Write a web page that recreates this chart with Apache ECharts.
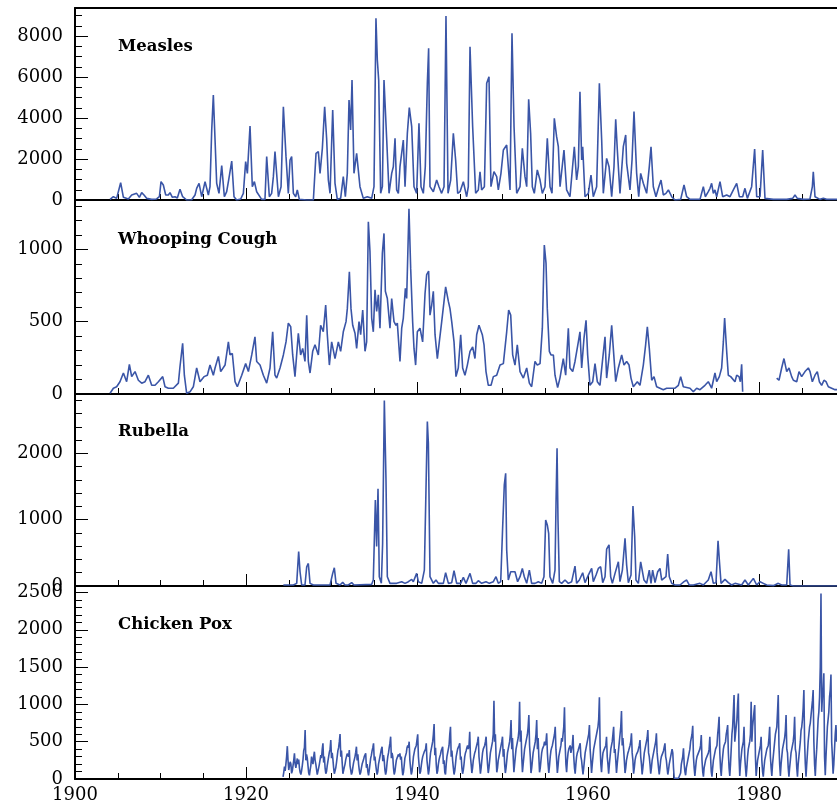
<!DOCTYPE html>
<html>
<head>
<meta charset="utf-8">
<script src="https://cdn.jsdelivr.net/npm/echarts@6.0.0/dist/echarts.min.js"></script>
<style>
  html, body { margin: 0; padding: 0; background: #fff; }
  #chart { width: 837px; height: 807px; }
</style>
</head>
<body>
<div id="chart"></div>
<script>
// case counts, as [year, cases]
var measles = [[1904.10,30],[1904.49,160],[1904.87,80],[1905.34,845],[1905.66,130],[1906.24,50],[1906.63,245],[1906.82,160],[1907.21,325],[1907.53,130],[1907.80,360],[1908.07,245],[1908.38,80],[1908.97,30],[1909.55,50],[1909.87,160],[1910.06,895],[1910.33,730],[1910.61,245],[1910.92,245],[1911.11,360],[1911.39,130],[1911.70,160],[1911.97,100],[1912.28,520],[1912.59,160],[1913.06,0],[1913.65,15],[1914.04,245],[1914.23,570],[1914.51,815],[1914.82,160],[1915.21,895],[1915.60,245],[1915.79,650],[1915.99,3415],[1916.18,5120],[1916.38,2925],[1916.57,815],[1916.84,325],[1917.16,1675],[1917.47,160],[1917.74,405],[1917.97,975],[1918.33,1900],[1918.60,160],[1918.91,0],[1919.38,50],[1919.69,325],[1919.96,1870],[1920.16,1300],[1920.47,3610],[1920.74,650],[1920.98,895],[1921.25,405],[1921.44,490],[1921.83,30],[1922.22,30],[1922.42,2115],[1922.73,160],[1923.00,325],[1923.20,1140],[1923.39,2360],[1923.79,160],[1924.10,650],[1924.37,4550],[1924.68,2115],[1924.95,325],[1925.15,1950],[1925.34,2115],[1925.54,325],[1925.81,160],[1926.00,490],[1926.24,30],[1927.10,0],[1927.88,0],[1928.19,2275],[1928.46,2360],[1928.66,1300],[1928.93,2520],[1929.20,4550],[1929.43,3010],[1929.63,975],[1929.83,325],[1930.14,4390],[1930.41,815],[1930.68,30],[1931.07,80],[1931.38,1140],[1931.62,160],[1931.85,1300],[1932.05,4880],[1932.24,3415],[1932.40,5850],[1932.63,1300],[1932.94,2275],[1933.33,650],[1933.72,80],[1934.19,160],[1934.70,80],[1934.97,650],[1935.20,8860],[1935.36,6830],[1935.52,5850],[1935.75,325],[1935.95,650],[1936.14,5850],[1936.45,3010],[1936.73,325],[1937.04,1300],[1937.23,1625],[1937.43,3010],[1937.62,490],[1937.82,325],[1938.01,1625],[1938.40,2925],[1938.60,650],[1938.87,3250],[1939.10,4505],[1939.38,3575],[1939.65,650],[1939.96,325],[1940.23,3740],[1940.47,650],[1940.74,325],[1940.97,1625],[1941.21,5690],[1941.36,7400],[1941.52,650],[1941.91,405],[1942.30,975],[1942.57,650],[1942.88,325],[1943.16,650],[1943.39,8975],[1943.63,325],[1943.94,975],[1944.25,3250],[1944.52,1950],[1944.76,325],[1945.03,405],[1945.42,895],[1945.81,160],[1946.00,650],[1946.20,7480],[1946.51,3575],[1946.86,325],[1947.17,490],[1947.37,1380],[1947.56,490],[1947.88,650],[1948.15,5690],[1948.42,6015],[1948.65,650],[1949.00,1380],[1949.32,1140],[1949.51,490],[1949.82,1300],[1950.10,2440],[1950.49,2680],[1950.88,490],[1951.11,8130],[1951.35,3575],[1951.66,325],[1952.05,650],[1952.32,2520],[1952.63,1140],[1952.83,650],[1953.06,4910],[1953.29,3250],[1953.49,650],[1953.72,325],[1954.07,1465],[1954.39,975],[1954.66,325],[1954.97,650],[1955.24,3010],[1955.56,650],[1955.79,325],[1956.06,3985],[1956.33,3090],[1956.53,2600],[1956.73,650],[1957.19,2440],[1957.50,490],[1957.89,160],[1958.40,2600],[1958.67,975],[1958.87,1625],[1959.06,5285],[1959.26,1950],[1959.38,2600],[1959.65,160],[1960.04,325],[1960.35,1220],[1960.62,160],[1961.01,650],[1961.33,5690],[1961.60,2925],[1961.79,325],[1962.18,2030],[1962.46,1625],[1962.77,160],[1963.04,1625],[1963.24,3935],[1963.43,2440],[1963.74,325],[1964.13,2600],[1964.41,3170],[1964.52,1790],[1964.91,490],[1965.15,1950],[1965.38,4310],[1965.69,1300],[1965.93,160],[1966.16,1300],[1966.47,815],[1966.86,325],[1967.17,1625],[1967.37,2600],[1967.64,650],[1967.95,160],[1968.23,570],[1968.54,975],[1968.81,245],[1969.12,325],[1969.40,490],[1969.79,160],[1970.17,0],[1970.84,30],[1971.23,730],[1971.54,160],[1971.93,30],[1973.10,30],[1973.49,650],[1973.72,160],[1974.07,405],[1974.27,570],[1974.46,815],[1974.66,325],[1974.85,490],[1975.05,160],[1975.44,895],[1975.75,160],[1976.22,245],[1976.61,160],[1977.00,490],[1977.39,815],[1977.70,160],[1978.09,160],[1978.36,570],[1978.64,80],[1979.14,650],[1979.49,2490],[1979.73,160],[1980.12,160],[1980.43,2440],[1980.70,80],[1981.68,30],[1983.24,30],[1983.94,80],[1984.21,245],[1984.48,80],[1985.19,30],[1985.96,50],[1986.24,650],[1986.35,1380],[1986.55,160],[1987.13,30],[1987.52,80],[1987.91,30],[1989.12,30]];

var whoopingCough = [[1904.10,5],[1904.49,40],[1904.87,50],[1905.26,85],[1905.66,145],[1906.04,85],[1906.36,205],[1906.63,120],[1907.02,155],[1907.41,95],[1907.80,75],[1908.19,85],[1908.58,130],[1908.97,60],[1909.36,60],[1909.75,85],[1910.26,120],[1910.53,50],[1910.92,40],[1911.50,40],[1912.09,75],[1912.28,190],[1912.59,350],[1912.79,130],[1913.06,5],[1913.45,15],[1913.84,50],[1914.23,180],[1914.62,85],[1915.09,120],[1915.48,130],[1915.79,200],[1916.18,130],[1916.38,180],[1916.77,260],[1917.04,155],[1917.55,200],[1917.94,360],[1918.13,270],[1918.40,280],[1918.72,85],[1918.99,50],[1919.50,130],[1919.96,210],[1920.28,155],[1920.67,270],[1921.05,395],[1921.25,225],[1921.64,200],[1922.03,130],[1922.42,75],[1922.81,180],[1923.12,430],[1923.39,130],[1923.59,110],[1923.98,180],[1924.37,270],[1924.68,360],[1924.95,490],[1925.23,465],[1925.46,270],[1925.73,120],[1925.93,110],[1926.12,420],[1926.39,270],[1926.63,315],[1926.90,225],[1927.10,545],[1927.29,225],[1927.49,145],[1927.80,295],[1928.07,340],[1928.46,270],[1928.73,475],[1929.04,430],[1929.32,615],[1929.51,410],[1929.75,200],[1930.02,360],[1930.41,245],[1930.80,360],[1931.07,295],[1931.38,430],[1931.70,500],[1931.85,590],[1932.09,845],[1932.28,590],[1932.48,475],[1932.75,420],[1932.94,315],[1933.22,500],[1933.41,410],[1933.65,580],[1933.92,295],[1934.11,360],[1934.31,1190],[1934.50,985],[1934.70,525],[1934.89,430],[1935.09,720],[1935.28,570],[1935.48,685],[1935.67,455],[1935.95,975],[1936.14,1110],[1936.30,710],[1936.53,660],[1936.84,455],[1937.04,660],[1937.31,500],[1937.54,475],[1937.70,490],[1938.01,225],[1938.21,455],[1938.40,525],[1938.64,730],[1938.79,660],[1939.06,1280],[1939.26,870],[1939.49,500],[1939.65,315],[1939.84,200],[1940.04,430],[1940.35,455],[1940.66,360],[1940.94,695],[1941.13,825],[1941.36,850],[1941.52,545],[1941.72,615],[1941.91,710],[1942.11,410],[1942.38,245],[1942.61,360],[1942.89,500],[1943.16,640],[1943.35,740],[1943.67,640],[1943.86,590],[1944.06,500],[1944.33,360],[1944.56,120],[1944.83,180],[1945.11,410],[1945.34,180],[1945.61,130],[1945.89,200],[1946.20,295],[1946.51,325],[1946.78,245],[1946.98,410],[1947.25,475],[1947.45,465],[1947.64,410],[1947.84,340],[1948.07,155],[1948.34,60],[1948.66,60],[1948.93,120],[1949.32,130],[1949.71,200],[1950.10,210],[1950.49,430],[1950.72,580],[1950.96,545],[1951.19,270],[1951.46,200],[1951.73,340],[1952.05,155],[1952.44,110],[1952.83,180],[1953.14,75],[1953.41,50],[1953.80,225],[1954.07,200],[1954.39,210],[1954.66,455],[1954.89,1030],[1955.09,905],[1955.24,590],[1955.48,295],[1955.67,270],[1955.95,270],[1956.14,130],[1956.45,45],[1956.72,110],[1957.11,245],[1957.39,130],[1957.70,455],[1957.89,180],[1958.21,155],[1958.48,225],[1958.87,360],[1959.06,430],[1959.26,180],[1959.53,385],[1959.77,510],[1959.96,270],[1960.23,60],[1960.55,85],[1960.82,210],[1961.09,85],[1961.40,60],[1961.72,245],[1961.99,395],[1962.18,110],[1962.49,270],[1962.77,475],[1962.96,315],[1963.24,85],[1963.55,180],[1963.94,270],[1964.21,200],[1964.52,225],[1964.80,200],[1965.03,110],[1965.30,50],[1965.77,85],[1966.08,60],[1966.47,200],[1966.74,340],[1966.94,465],[1967.17,315],[1967.45,95],[1967.72,120],[1968.03,50],[1968.42,40],[1968.81,30],[1969.20,40],[1969.79,40],[1970.18,40],[1970.57,60],[1970.84,120],[1971.15,50],[1971.54,45],[1971.93,40],[1972.32,15],[1972.71,40],[1973.10,30],[1973.68,60],[1974.07,85],[1974.46,40],[1974.85,145],[1975.05,85],[1975.36,120],[1975.63,180],[1975.83,360],[1975.98,525],[1976.22,295],[1976.41,130],[1976.69,120],[1976.92,130],[1977.19,85],[1977.39,130],[1977.66,120],[1977.82,85],[1977.97,205],[1978.09,15],[1980.00,null],[1982.07,110],[1982.34,95],[1982.65,180],[1982.92,245],[1983.24,155],[1983.51,180],[1983.82,120],[1984.02,95],[1984.41,85],[1984.68,155],[1984.99,120],[1985.38,155],[1985.77,180],[1985.97,155],[1986.24,85],[1986.55,130],[1986.82,155],[1987.06,85],[1987.33,60],[1987.60,95],[1987.84,85],[1988.11,50],[1988.50,40],[1988.89,30],[1989.12,30]];

var rubella = [[1924.37,15],[1925.54,15],[1925.93,40],[1926.16,520],[1926.32,215],[1926.51,15],[1926.90,15],[1927.10,290],[1927.29,340],[1927.49,40],[1927.88,15],[1929.83,15],[1930.14,190],[1930.33,275],[1930.53,40],[1930.99,15],[1931.31,55],[1931.58,15],[1931.97,15],[1932.36,50],[1932.63,15],[1934.70,25],[1934.89,90],[1935.13,1295],[1935.28,595],[1935.44,1465],[1935.59,140],[1935.83,40],[1935.98,645],[1936.18,2795],[1936.37,1625],[1936.53,140],[1936.84,40],[1937.62,40],[1938.21,65],[1938.60,40],[1938.99,65],[1939.38,100],[1939.57,65],[1939.96,190],[1940.16,65],[1940.55,40],[1940.86,240],[1941.05,1450],[1941.21,2480],[1941.33,2150],[1941.52,140],[1941.91,40],[1942.22,90],[1942.50,40],[1943.08,40],[1943.35,200],[1943.67,40],[1944.06,50],[1944.33,230],[1944.64,40],[1945.11,40],[1945.42,130],[1945.73,40],[1946.20,190],[1946.51,40],[1946.90,40],[1947.17,80],[1947.56,40],[1948.07,65],[1948.46,40],[1948.93,65],[1949.24,140],[1949.51,40],[1949.79,65],[1950.02,895],[1950.21,1525],[1950.37,1700],[1950.49,545],[1950.68,90],[1950.96,215],[1951.19,240],[1951.46,215],[1951.77,65],[1952.05,140],[1952.32,265],[1952.55,140],[1952.83,40],[1953.14,240],[1953.41,40],[1953.80,40],[1954.19,65],[1954.58,40],[1954.85,140],[1955.05,995],[1955.24,920],[1955.40,795],[1955.55,140],[1955.87,40],[1956.14,240],[1956.26,1245],[1956.38,2075],[1956.49,995],[1956.65,65],[1956.92,40],[1957.31,90],[1957.43,115],[1957.70,40],[1958.09,65],[1958.48,300],[1958.67,40],[1958.99,90],[1959.38,200],[1959.65,50],[1960.04,165],[1960.43,265],[1960.62,65],[1960.94,165],[1961.21,265],[1961.48,290],[1961.72,50],[1961.99,140],[1962.18,555],[1962.46,620],[1962.65,140],[1962.85,40],[1963.16,190],[1963.55,365],[1963.74,65],[1964.02,240],[1964.33,720],[1964.52,315],[1964.72,50],[1965.03,165],[1965.26,1205],[1965.46,745],[1965.61,90],[1965.89,40],[1966.16,365],[1966.39,380],[1966.55,90],[1966.86,40],[1967.17,240],[1967.37,40],[1967.56,240],[1967.84,50],[1968.15,215],[1968.42,265],[1968.62,90],[1969.12,140],[1969.32,480],[1969.51,140],[1969.79,40],[1970.18,15],[1970.76,15],[1971.23,65],[1971.54,90],[1971.85,15],[1972.32,15],[1973.10,40],[1973.49,15],[1974.07,90],[1974.39,215],[1974.66,40],[1974.97,50],[1975.21,680],[1975.36,390],[1975.56,40],[1976.02,100],[1976.41,50],[1976.80,15],[1977.19,40],[1977.97,15],[1978.36,90],[1978.75,15],[1979.34,115],[1979.73,15],[1980.12,65],[1980.51,40],[1980.90,15],[1981.68,5],[1982.26,40],[1982.65,15],[1983.24,15],[1983.47,555],[1983.63,15],[1984.02,0],[1989.12,0]];

// chicken pox, one row per year (Jan..Dec), starting 1924
var chickenPoxStartYear = 1924;
var chickenPoxByYear = [
  [null,null,null,null,30,90,165,110,200,300,440,250],
  [120,180,230,200,75,110,180,250,344,200,150,220],
  [275,200,260,150,90,60,110,180,260,380,420,657],
  [250,330,280,180,80,50,120,180,300,250,200,300],
  [366,250,200,130,60,80,150,200,260,320,280,400],
  [478,220,300,150,70,100,180,240,300,360,400,523],
  [280,350,260,150,70,90,150,220,300,380,420,500],
  [603,300,380,220,70,90,160,200,260,300,340,360],
  [300,389,180,120,60,90,160,220,260,300,360,433],
  [250,330,200,120,60,90,150,200,230,260,300,320],
  [344,150,200,100,50,120,200,280,320,380,420,478],
  [250,300,200,120,60,100,200,250,300,350,400,433],
  [240,320,250,120,60,110,220,300,350,420,480,567],
  [280,350,300,150,60,100,180,250,280,300,330,300],
  [344,260,300,150,50,90,180,280,300,350,420,450],
  [420,500,250,150,60,100,200,300,350,400,420,450],
  [450,598,300,180,70,100,180,250,300,330,360,380],
  [400,478,250,160,60,120,250,350,400,450,500,600],
  [737,320,420,200,70,110,200,260,300,330,380,400],
  [433,200,250,90,60,200,300,350,400,450,600,701],
  [300,380,250,150,60,110,200,300,350,400,420,450],
  [478,260,300,150,70,120,200,300,350,380,420,450],
  [400,450,634,300,200,80,150,250,300,350,380,420],
  [420,500,567,300,200,70,150,250,350,400,420,450],
  [500,567,350,200,80,150,250,350,400,450,500,600],
  [1050,500,600,300,90,150,250,300,350,400,450,500],
  [567,300,400,200,80,150,250,350,400,450,500,600],
  [790,400,550,300,90,200,300,400,450,500,550,650],
  [1036,500,650,300,90,200,300,400,450,500,550,600],
  [700,857,450,300,80,150,250,350,400,450,500,600],
  [790,400,550,300,90,150,250,350,400,420,450,500],
  [450,500,612,350,200,80,180,300,380,420,450,500],
  [550,600,701,400,250,80,180,300,350,400,450,550],
  [500,600,700,960,450,200,90,250,350,400,420,450],
  [350,400,450,591,300,150,70,200,300,350,380,400],
  [400,478,300,250,150,60,150,250,350,400,450,500],
  [550,600,723,400,250,80,200,300,400,450,500,550],
  [600,650,700,800,1094,450,200,90,250,350,380,400],
  [380,450,567,300,200,70,200,300,400,450,500,600],
  [701,350,400,250,80,200,300,400,500,600,700,911],
  [450,550,400,250,80,150,250,300,350,380,400,450],
  [500,612,350,250,70,150,250,300,330,350,370,380],
  [450,523,300,200,60,150,250,350,400,450,500,550],
  [656,350,300,200,70,150,250,300,350,400,450,500],
  [612,350,250,150,60,150,250,300,320,350,380,400],
  [478,300,250,150,60,120,200,250,300,350,400,350],
  [150,10,10,10,10,10,10,10,10,10,80,200],
  [250,300,411,200,100,50,150,200,250,300,350,400],
  [500,550,600,714,300,150,40,150,250,300,320,350],
  [350,400,450,590,250,100,30,150,200,250,280,300],
  [300,350,400,567,300,100,30,150,250,300,350,400],
  [400,450,600,700,835,350,150,40,200,300,400,450],
  [450,500,600,650,723,350,150,40,200,400,600,700],
  [900,1125,500,600,700,800,1000,1147,300,40,200,300],
  [400,450,500,701,300,150,30,150,300,400,450,500],
  [600,1036,500,700,800,900,991,300,40,150,250,300],
  [350,400,450,567,250,100,30,150,250,300,350,400],
  [400,450,550,701,300,150,40,200,300,400,500,600],
  [600,700,900,1125,450,200,40,200,300,400,450,500],
  [550,650,857,400,350,150,30,150,250,350,400,450],
  [500,600,835,400,350,150,30,200,300,400,500,650],
  [700,800,950,1192,500,200,30,200,350,500,600,700],
  [750,850,950,1050,1192,500,200,40,250,400,600,800],
  [900,1100,1500,2488,900,1100,1200,1416,300,50,300,500],
  [700,800,900,1100,1200,1400,500,300,70,200,400,600],
  [723,500]
];
var chickenPox = [];
chickenPoxByYear.forEach(function (row, y) {
  row.forEach(function (v, m) {
    if (v !== null) chickenPox.push([chickenPoxStartYear + y + m / 12, v]);
  });
});

var diseases = ['Measles', 'Whooping Cough', 'Rubella', 'Chicken Pox'];
var seriesData = [measles, whoopingCough, rubella, chickenPox];
var yMax = [9366, 1341, 2895, 2587];
var yMajorStep = [2000, 500, 1000, 500];
var yMinorStep = [500, 100, 200, 100];
var yearMin = 1900, yearMax = 1990, yearMajorStep = 20, yearMinorStep = 5;

// panel layout (px)
var panelTop = [8, 200, 394, 586];
var panelHeight = [192, 194, 192, 193];
var titleCenterY = [47, 240, 432, 625];
var plotLeft = 75;
var pxPerYear = 8.55;

var lineColor = '#3a55a7';
var serif = 'DejaVu Serif';

var chart = echarts.init(document.getElementById('chart'));

function plain(v) { return String(v); }

var grids = [], xAxes = [], yAxes = [], series = [], titles = [];
for (var i = 0; i < 4; i++) {
  grids.push({
    left: plotLeft, top: panelTop[i], width: (yearMax - yearMin) * pxPerYear, height: panelHeight[i],
    outerBoundsMode: 'none', containLabel: false, show: false
  });
}
// major axes first (index i), minor-tick axes after (index i + 4)
for (var i = 0; i < 4; i++) {
  xAxes.push({
    gridIndex: i, type: 'value', position: 'bottom', min: yearMin, max: yearMax, interval: yearMajorStep,
    axisLine: { show: true, onZero: false, lineStyle: { color: '#000', width: 2 } },
    axisTick: { show: true, inside: true, length: 12, lineStyle: { color: '#000', width: 1 } },
    axisLabel: { show: i === 3, showMaxLabel: false, margin: 7, color: '#000', fontFamily: serif, fontSize: 18, formatter: plain },
    splitLine: { show: false }
  });
  yAxes.push({
    gridIndex: i, type: 'value', position: 'left', min: 0, max: yMax[i], interval: yMajorStep[i],
    axisLine: { show: true, lineStyle: { color: '#000', width: 2 } },
    axisTick: { show: true, inside: true, length: 13, lineStyle: { color: '#000', width: 1 } },
    axisLabel: { show: true, showMaxLabel: false, margin: 12, color: '#000', fontFamily: serif, fontSize: 18, formatter: plain },
    splitLine: { show: false }
  });
}
for (var i = 0; i < 4; i++) {
  xAxes.push({
    gridIndex: i, type: 'value', position: 'bottom', min: yearMin, max: yearMax, interval: yearMinorStep,
    axisLine: { show: false, onZero: false },
    axisTick: { show: true, inside: true, length: 6, lineStyle: { color: '#000', width: 1 } },
    axisLabel: { show: false }, splitLine: { show: false }
  });
  yAxes.push({
    gridIndex: i, type: 'value', position: 'left', min: 0, max: yMax[i], interval: yMinorStep[i],
    axisLine: { show: false },
    axisTick: { show: true, inside: true, length: 7, lineStyle: { color: '#000', width: 1 } },
    axisLabel: { show: false }, splitLine: { show: false }
  });
}
// frame line along the top of the first panel
xAxes.push({
  gridIndex: 0, type: 'value', position: 'top', min: yearMin, max: yearMax,
  axisLine: { show: true, onZero: false, lineStyle: { color: '#000', width: 2 } },
  axisTick: { show: false }, axisLabel: { show: false }, splitLine: { show: false }
});

for (var i = 0; i < 4; i++) {
  series.push({
    type: 'line', xAxisIndex: i, yAxisIndex: i, data: seriesData[i],
    showSymbol: false, symbol: 'none', connectNulls: false, silent: true,
    lineStyle: { color: lineColor, width: 1.6 }
  });
  titles.push({
    text: diseases[i], left: 118, top: titleCenterY[i] - 9, padding: 0,
    textStyle: { color: '#000', fontFamily: serif, fontWeight: 'bold', fontSize: 16.5 }
  });
}

chart.setOption({
  animation: false,
  backgroundColor: '#fff',
  title: titles,
  grid: grids,
  xAxis: xAxes,
  yAxis: yAxes,
  series: series
});
</script>
</body>
</html>
